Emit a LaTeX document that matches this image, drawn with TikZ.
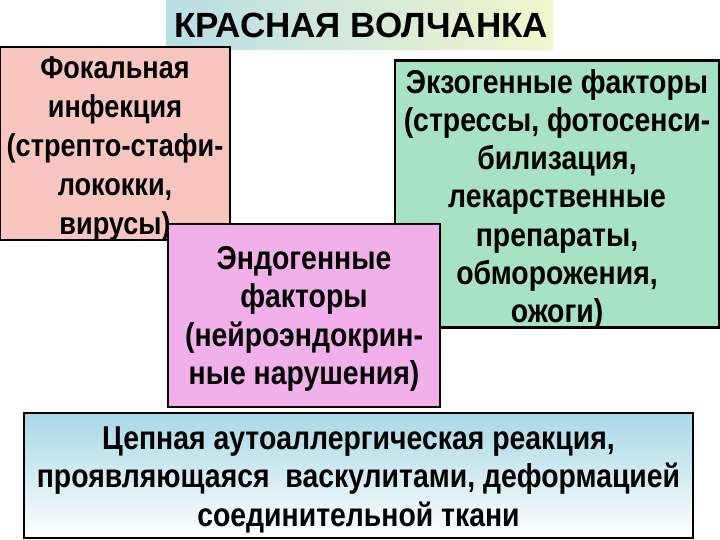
\documentclass[tikz,border=0pt]{standalone}
\usepackage{fontspec}
\setmainfont{Liberation Sans}
\newfontfamily\narrowsans[FakeStretch=0.86]{Liberation Sans}
\usepackage{xcolor}
\usetikzlibrary{shapes, calc, positioning, backgrounds}

\definecolor{focalpink}{HTML}{F8C6BE}
\definecolor{exogreen}{HTML}{A8E2C4}
\definecolor{endoviolet}{HTML}{F2B0EA}
\definecolor{chainblue}{HTML}{A8D8E6}
\definecolor{titleblue}{HTML}{B8DEE6}
\definecolor{titleyellow}{HTML}{F2F6CC}

\begin{document}
\begin{tikzpicture}[x=1pt, y=-1pt,
        box/.style={draw, rectangle, line width=2.5pt, inner sep=0pt},
        boxtext/.style={inner sep=0pt, align=center,
            font=\narrowsans\bfseries\fontsize{33}{38.3}\selectfont}]
        \useasboundingbox (0, 0) rectangle (720, 540);
        \fill [white] (0, 0) rectangle (720, 540);

        \node [inner sep=0pt, minimum width=387pt, minimum height=50pt, left color=titleblue,
            right color=titleyellow] (Ntitle) at (359.5, 25) {};
        \node [font=\bfseries\fontsize{35}{40}\selectfont, anchor=base] (Ttitle) at (361, 37.3) {КРАСНАЯ ВОЛЧАНКА};

        \node [box, fill=focalpink, minimum width=230pt, minimum height=193pt] (Nfocal) at (115, 143.5) {};
        \node [boxtext, font=\narrowsans\bfseries\fontsize{31.5}{39}\selectfont] (Tfocal) at (115, 148.8)
            {Фокальная\\ инфекция\\ (стрепто-стафи-\\ лококки,\\ вирусы)};

        \node [box, fill=exogreen, minimum width=324pt, minimum height=267pt] (Nexo) at (557, 194) {};
        \node [boxtext] (Texo) at (557, 199.4)
            {Экзогенные факторы\\ (стрессы, фотосенси-\\ билизация,\\ лекарственные\\ препараты,\\ обморожения,\\ ожоги)};

        \node [box, fill=endoviolet, minimum width=272pt, minimum height=183pt] (Nendo) at (304, 315.5) {};
        \node [boxtext] (Tendo) at (304, 319)
            {Эндогенные\\ факторы\\ (нейроэндокрин-\\ ные нарушения)};

        \node [box, top color=chainblue, bottom color=white, minimum width=669pt, minimum height=125pt] (Nchain) at (358.5, 475.5) {};
        \node [boxtext] (Tchain) at (358.5, 479.8)
            {Цепная аутоаллергическая реакция,\\ проявляющаяся\ \ васкулитами, деформацией\\ соединительной ткани};
    \end{tikzpicture}
\end{document}
